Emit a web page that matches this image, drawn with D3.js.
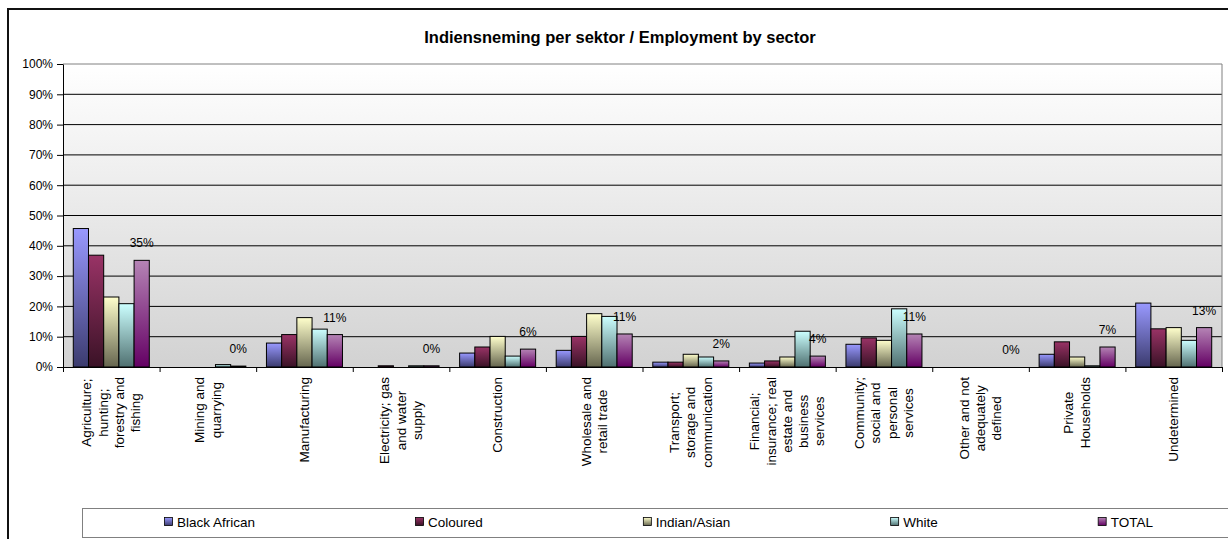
<!DOCTYPE html>
<html>
<head>
<meta charset="utf-8">
<script src="https://cdn.jsdelivr.net/npm/d3@7"></script>
<style>
  body { margin: 0; background: #ffffff; }
  svg { display: block; font-family: "Liberation Sans", Arial, sans-serif; }
</style>
</head>
<body>
<svg id="chart" width="1228" height="539"></svg>
<script>
// Sector names, split into the lines they are printed on
const sectors = [
  ["Agriculture;", "hunting;", "forestry and", "fishing"],
  ["Mining and", "quarrying"],
  ["Manufacturing"],
  ["Electricity; gas", "and water", "supply"],
  ["Construction"],
  ["Wholesale and", "retail trade"],
  ["Transport;", "storage and", "communication"],
  ["Financial;", "insurance; real", "estate and", "business", "services"],
  ["Community;", "social and", "personal", "services"],
  ["Other and not", "adequately", "defined"],
  ["Private", "Households"],
  ["Undetermined"]
];

const seriesNames = ["Black African", "Coloured", "Indian/Asian", "White", "TOTAL"];

// Share of each group employed in each sector (%)
const blackAfrican = [45.7, 0,   7.9, 0,   4.6, 5.5,  1.6, 1.3,  7.5,  0, 4.2, 21.1];
const coloured     = [36.9, 0,  10.7, 0.4, 6.6, 10.1, 1.6, 2.0,  9.6,  0, 8.3, 12.6];
const indianAsian  = [23.1, 0,  16.3, 0,  10.1, 17.6, 4.2, 3.3,  8.8,  0, 3.3, 13.0];
const white        = [20.9, 0.8, 12.5, 0.4, 3.6, 16.7, 3.3, 11.8, 19.2, 0, 0.4, 8.8];
const total        = [35.2, 0.3, 10.7, 0.4, 5.9, 10.9, 2.0, 3.6, 10.9, 0, 6.6, 13.0];

const yTicks = [0, 10, 20, 30, 40, 50, 60, 70, 80, 90, 100];
const titleText = "Indiensneming per sektor / Employment by sector";

const seriesValues = [blackAfrican, coloured, indianAsian, white, total];

// Bar fills: light at the top, dark at the base
const palette = [
  ["#9999ff", "#3b3b6e"],
  ["#993366", "#3a1226"],
  ["#ffffcc", "#66664f"],
  ["#ccffff", "#4f7070"],
  ["#b584b5", "#640064"]
];

const plot = { left: 63, right: 1222, top: 64, bottom: 367 };
const svg = d3.select("#chart");
const defs = svg.append("defs");

palette.forEach((c, i) => {
  const g = defs.append("linearGradient")
    .attr("id", "fill" + i).attr("x1", 0).attr("y1", 0).attr("x2", 0).attr("y2", 1);
  g.append("stop").attr("offset", "0%").attr("stop-color", c[0]);
  g.append("stop").attr("offset", "100%").attr("stop-color", c[1]);
});
const bg = defs.append("linearGradient")
  .attr("id", "plotBg").attr("x1", 0).attr("y1", 0).attr("x2", 0).attr("y2", 1);
bg.append("stop").attr("offset", "0%").attr("stop-color", "#ffffff");
bg.append("stop").attr("offset", "100%").attr("stop-color", "#d2d2d2");

// Chart frame
svg.append("rect")
  .attr("x", 8).attr("y", 9).attr("width", 1250).attr("height", 560)
  .attr("fill", "#ffffff").attr("stroke", "#111").attr("stroke-width", 2);

// Title
svg.append("text")
  .attr("x", 620).attr("y", 43)
  .attr("text-anchor", "middle")
  .attr("font-size", "16.5px").attr("font-weight", "bold")
  .attr("fill", "#000")
  .text(titleText);

// Scales
const y = d3.scaleLinear().domain([0, 100]).range([plot.bottom, plot.top]);
const x0 = d3.scaleBand()
  .domain(d3.range(sectors.length))
  .range([plot.left, plot.right])
  .paddingInner(0.213).paddingOuter(0.1065);
const x1 = d3.scaleBand().domain(seriesNames).range([0, x0.bandwidth()]);
const xEdges = d3.scaleLinear().domain([0, sectors.length]).range([plot.left, plot.right]);

// Plot background
svg.append("rect")
  .attr("x", plot.left).attr("y", plot.top)
  .attr("width", plot.right - plot.left).attr("height", plot.bottom - plot.top)
  .attr("fill", "url(#plotBg)");

// Gridlines
svg.append("g").selectAll("line")
  .data(yTicks.filter(t => t > 0 && t < 100))
  .join("line")
  .attr("x1", plot.left).attr("x2", plot.right)
  .attr("y1", d => y(d)).attr("y2", d => y(d))
  .attr("stroke", "#000").attr("stroke-width", 1);

// Plot-area border (top and right)
svg.append("path")
  .attr("d", `M${plot.left},${plot.top}H${plot.right}V${plot.bottom}`)
  .attr("fill", "none").attr("stroke", "#808080").attr("stroke-width", 1);

// Bars
const barData = [];
seriesValues.forEach((vals, s) => {
  vals.forEach((v, i) => { if (v > 0) barData.push({ s, i, v }); });
});
svg.append("g").selectAll("rect")
  .data(barData)
  .join("rect")
  .attr("x", d => x0(d.i) + x1(seriesNames[d.s]))
  .attr("width", x1.bandwidth())
  .attr("y", d => y(d.v))
  .attr("height", d => y(0) - y(d.v))
  .attr("fill", d => `url(#fill${d.s})`)
  .attr("stroke", "#000").attr("stroke-width", 1);

// Y axis
const yAxis = svg.append("g")
  .attr("transform", `translate(${plot.left},0)`)
  .call(d3.axisLeft(y).tickValues(yTicks).tickFormat(d => d + "%").tickSize(6).tickSizeOuter(0).tickPadding(4));
yAxis.selectAll("text").attr("font-size", "12px").attr("fill", "#000").attr("font-family", null);
yAxis.selectAll("line, path").attr("stroke", "#000");

// X axis with ticks at sector boundaries
const xAxis = svg.append("g")
  .attr("transform", `translate(0,${plot.bottom})`)
  .call(d3.axisBottom(xEdges).tickValues(d3.range(sectors.length + 1)).tickFormat("").tickSize(5).tickSizeOuter(0));
xAxis.selectAll("line, path").attr("stroke", "#000");

// TOTAL value labels
const fmtPct = d3.format(".0%");
svg.append("g").selectAll("text")
  .data(total.map((v, i) => ({ v, i })))
  .join("text")
  .attr("x", d => x0(d.i) + x1("TOTAL") + x1.bandwidth() / 2)
  .attr("y", d => y(d.v) - 13)
  .attr("text-anchor", "middle")
  .attr("font-size", "12px").attr("fill", "#000")
  .text(d => fmtPct(d.v / 100));

// Sector labels, rotated, lines centred on each other
const labelTop = 377;
const lineStep = 16.3;
sectors.forEach((lines, i) => {
  const cx = x0(i) + x0.bandwidth() / 2;
  const grp = svg.append("g");
  const texts = grp.selectAll("text")
    .data(lines)
    .join("text")
    .attr("font-size", "13.5px").attr("fill", "#000")
    .attr("text-anchor", "middle")
    .attr("dominant-baseline", "central")
    .text(d => d);
  let maxLen = 0;
  texts.each(function () { maxLen = Math.max(maxLen, this.getComputedTextLength()); });
  const cy = labelTop + maxLen / 2;
  texts.attr("transform", (d, k) =>
    `translate(${cx + (k - (lines.length - 1) / 2) * lineStep},${cy}) rotate(-90)`);
});

// Legend
svg.append("rect")
  .attr("x", 82.5).attr("y", 508.5).attr("width", 1200).attr("height", 29)
  .attr("fill", "#ffffff").attr("stroke", "#808080").attr("stroke-width", 1);
let lx = 164;
seriesNames.forEach((name, s) => {
  svg.append("rect")
    .attr("x", lx + 0.5).attr("y", 517.5).attr("width", 8).attr("height", 8)
    .attr("fill", `url(#fill${s})`).attr("stroke", "#000").attr("stroke-width", 0.8);
  const t = svg.append("text")
    .attr("x", lx + 13).attr("y", 526.5)
    .attr("font-size", "13.5px").attr("fill", "#000")
    .text(name);
  lx += 13 + t.node().getComputedTextLength() + 160;
});
</script>
</body>
</html>
